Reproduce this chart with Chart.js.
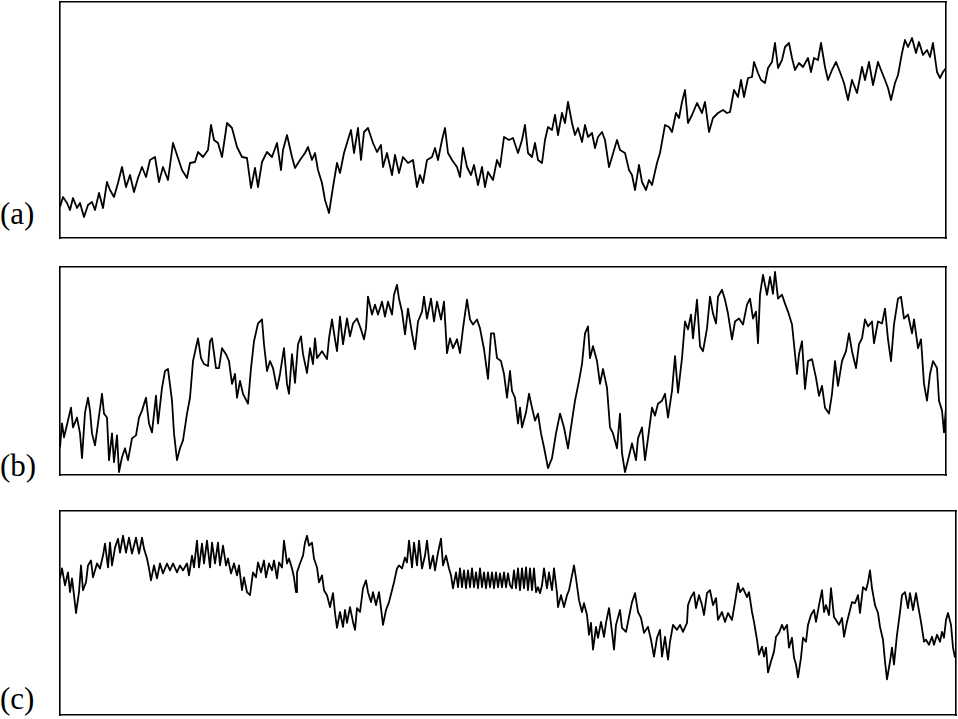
<!DOCTYPE html>
<html><head><meta charset="utf-8">
<script src="https://cdn.jsdelivr.net/npm/chart.js@4"></script>
<style>
html,body{margin:0;padding:0;background:#fff;width:958px;height:719px;overflow:hidden;}
canvas{position:absolute;}
.lbl{position:absolute;left:0;font-family:"Liberation Serif","DejaVu Serif",serif;font-size:31px;line-height:31px;color:#000;white-space:nowrap;}
</style></head><body>
<canvas id="ca" width="890" height="240" style="left:58px;top:0px"></canvas>
<canvas id="cb" width="890" height="212" style="left:58px;top:265px"></canvas>
<canvas id="cc" width="900" height="208" style="left:58px;top:509px"></canvas>
<div class="lbl" style="top:198px">(a)</div>
<div class="lbl" style="top:450px">(b)</div>
<div class="lbl" style="top:683px">(c)</div>
<script>
// Panel labels
const panelLabels = ["(a)", "(b)", "(c)"];

// Series (a): time and value
const timeA = [
 0,3,7,10,13,17,20,24,28,32, 35,39,43,47,50,54,58,62,66,70, 74,78,82,86,90,95,99,103,108,113,
 117,122,127,130,135,138,143,148,151,154, 158,162,167,172,177,182,187,191,195,198, 202,207,212,217,221,
 223,227,232,235,240,245,248,252,255,258, 262,265,269,273,277,280,284,287,291,294,
 298,301,304,308,313,317,321,323,327,332, 335,339,343,348,353,357,360,363,367,372,
 375,378,382,385,388,392,397,400,403,407, 411,414,418,422,425,428,433,437,440,444, 449,
 453,458,462,465,468,472,475,478,482,485, 488,492,495,498,502,505,508,512,515,518,
 522,525,528,532,535,538,542,545,549,552, 557,560,565,569,572,575,579,582,586,589,
 592,597,600,605,609,612,616,619,622,625, 628,632,637,642,645,649,653,658,663,667, 670,674,
 678,681,684,688,692,694,698,701,705,708, 712,715,718,722,725,729,732,735,739,743,
 748,751,754,758,761,765,768,772,776,780, 784,788,792,797,802,805,809,813,818,821,
 825,828,831,835,838,842,845,848,852,856, 859,863,867,870,873,877,880,883,886
];
const valueA = [
 31,41,35,28,40,30,35,21,33,36, 28,45,30,56,48,41,55,71,51,63, 46,60,71,61,78,81,56,71,58,95,
 83,68,60,75,76,86,81,88,113,98, 95,81,115,110,91,81,80,50,70,51, 76,86,81,95,68,
 88,103,81,70,78,85,91,78,85,68, 55,38,25,51,75,65,85,95,108,85,
 110,78,106,110,95,86,93,71,85,63, 83,65,81,75,78,51,63,55,78,81,
 90,78,98,110,85,78,71,61,90,71, 63,73,53,71,51,66,58,78,71,101, 98,
 100,85,98,113,85,81,95,78,75,98, 111,108,123,103,125,115,136,115,103,110,
 96,113,101,105,90,101,106,98,71,81, 98,88,85,68,63,48,73,56,48,58,
 53,75,85,113,111,106,125,120,136,148, 115,123,135,125,136,106,120,125,128,125, 126,148,
 141,158,141,160,161,176,165,158,155,170, 176,195,170,178,191,195,180,168,175,171,
 180,166,180,178,195,171,158,168,176,166, 155,138,158,145,171,158,176,153,176,168,
 158,150,138,155,163,185,198,191,200,185, 196,183,188,181,195,166,160,166,170
];

// Series (b)
const timeB = [
 0,2,4,8,11,13,17,20,22,25, 28,30,32,35,38,42,44,47,49,52, 54,57,59,62,65,68,72,76,79,82,
 86,89,92,96,98,102,105,108,112,114, 117,120,123,127,130,133,138,141,144,148,
 150,152,156,159,162,166,169,172,175,177, 180,183,188,191,194,198,202,204,207,210, 213,217,220,224,
 227,229,232,235,238,241,243,247,250,253, 255,257,262,267,269,272,275,277,280,283,
 287,290,293,297,301,304,306,308,312,315, 318,322,325,328,332,334,337,339,342,345,
 348,352,355,358,362,364,367,371,374,377, 381,384,387,390,393,397,400,403,407,410,
 413,417,420,424,428,431,434,437,441,444, 447,
 450,452,455,458,460,462,466,469,472,475, 478,481,484,488,492,496,500,504,508,511,
 515,519,522,525,528,530,533,537,540,543, 547,550,553,557,560,562,565,568,572,576,
 578,582,585,588,592,595,598,602,605,608, 612,615,618,622,625,628,631,633,637,640,
 643,647,650,653,656,658,662,665,668,672,
 675,679,683,687,690,693,696,698,700,703, 707,710,713,715,718,722,725,728,732,734,
 737,739,742,745,748,752,756,759,762,765, 769,772,775,778,782,786,789,792,796,799,
 802,805,808,812,814,818,822,825,828,831, 834,838,841,844,848,852,854,858,861,864,
 867,870,873,877,879,882,884,886
];
const valueB = [
 28,52,38,55,68,48,58,42,17,63, 78,65,42,30,52,82,62,58,15,42, 13,40,3,18,27,15,37,40,58,65,
 78,52,43,80,52,88,105,107,75,42, 15,27,35,62,78,115,138,118,112,110,
 135,138,108,108,128,122,115,92,102,78, 95,82,72,108,135,153,157,132,105,115, 108,87,102,128,
 92,82,122,93,132,140,122,103,128,112, 138,118,125,117,138,157,137,125,160,132,
 158,140,153,158,147,137,148,180,162,172, 162,175,160,175,162,182,192,178,165,142,
 168,143,127,155,165,180,158,178,155,175, 157,175,123,138,128,137,123,148,177,157,
 152,157,148,127,97,143,143,118,115,102, 78,
 105,85,78,52,68,48,63,82,68,55, 62,42,28,7,17,42,62,48,27,48,
 75,95,112,143,150,118,130,115,92,107, 88,48,42,27,62,22,3,15,32,15,
 37,48,15,37,68,60,72,75,82,58, 85,120,83,118,155,147,162,138,177,130,
 125,148,180,163,153,180,187,177,163,137,
 155,158,152,172,178,158,165,133,182,202, 182,200,183,205,178,182,173,165,152,132,
 102,122,135,87,115,117,98,80,90,68, 62,82,115,90,115,125,143,125,108,132,
 138,157,150,155,133,155,153,168,137,115, 152,178,180,158,162,143,157,128,137,92,
 75,102,115,108,75,65,43,68
];

// Series (c)
const timeC = [
 0,2,5,8,10,12,14,16,19,21, 23,26,28,31,33,37,40,43,45,48, 50,52,55,58,60,63,66,69,72,76,
 79,82,84,87,89,91,94,97,100,103, 107,110,113,117,120,123,127,129,132,134,
 137,139,142,144,147,150,152,155,158,160, 163,166,168,171,174,177,179,182,184,187,
 190,193,196,198,201,204,206,209,212,214, 217,219,222,224,
 227,229,232,234,236,237,240,243,245,247, 249,252,254,257,259,262,264,267,270,273,
 275,277,280,283,285,287,290,293,295,297, 300,303,306,308,311,313,316,319,321,323,
 326,329,332,334,337,339,342,345,347,349, 352,354,357,359,362,365,367,370,373,375,
 378,381,383,386,389,391,393,396,398,400, 402,404,406,408,410,412,414,416,418,420,
 422,424,426,428,430,432,434,436,438,440, 442,444,446,448,450,
 452,454,456,458,460,462,464,466,468,470, 472,474,476,478,480,482,484,487,489,492,
 494,497,498,501,504,507,509,512,514,516, 519,522,524,527,529,531,533,536,538,541,
 544,546,549,552,554,556,560,562,566,569, 572,575,578,581,584,588,591,594,597,600,
 602,605,608,610,613,617,620,623,627,628, 631,634,636,639,642,644,647,650,653,656,
 658,662,665,668,672,
 675,678,680,683,687,689,692,694,697,699, 702,704,706,708,711,714,716,719,722,724,
 727,729,732,734,736,738,741,743,746,748, 751,754,756,759,762,764,766,769,771,774,
 776,779,782,784,787,790,792,795,798,800, 803,806,808,810,812,815,818,820,823,825,
 827,830,832,834,837,840,842,845,848,850, 853,856,858,861,864,866,869,872,874,877,
 880,882,884,886,888,891,893,895
];
const valueC = [
 138,148,131,144,124,138,121,103,124,151, 126,134,151,156,139,153,148,161,173,149,
 174,151,169,178,164,181,164,179,163,179, 163,179,168,158,148,136,151,138,153,143,
 153,146,153,144,151,146,153,141,161,149, 176,149,173,153,176,149,174,153,174,151,
 171,151,158,143,153,141,151,126,139,124, 121,144,139,154,144,156,139,153,146,156,
 138,154,149,176,
 153,158,148,139,124,144,153,161,174,181, 171,174,158,149,134,141,126,121,109,123,
 103,88,104,89,106,93,109,94,86,108, 104,128,136,124,114,124,111,124,108,91,
 106,114,126,134,148,151,148,159,154,176, 149,174,151,176,148,161,176,148,161,146,
 164,178,151,161,148,141,128,144,129,148, 129,146,128,146,129,148,129,144,128,148,
 129,144,128,144,129,144,128,144,129,143, 129,144,129,143,131,
 128,146,128,148,126,148,128,149,126,148, 126,148,124,129,123,131,148,128,144,126,
 148,123,109,121,109,121,126,141,151,138, 116,104,113,101,81,93,66,89,78,94,
 79,93,108,84,66,91,106,88,84,99, 114,123,104,98,83,89,76,59,78,86,
 59,79,56,74,91,86,91,84,93,111, 119,124,108,121,111,101,123,126,111,118,
 96,104,94,103,96,
 114,133,124,128,119,124,104,94,76,61, 69,59,68,43,54,64,79,83,91,86,
 91,68,78,58,51,38,58,78,74,91, 101,106,94,111,126,104,111,101,128,99,
 96,91,98,79,94,106,114,113,121,103, 129,126,134,146,128,111,103,89,76,54,
 36,54,68,51,81,104,121,124,108,123, 106,123,111,94,74,76,71,79,71,81,
 74,84,78,96,103,91,68,58
];

// Axis ranges (time span, value span) per panel
const rangesA = {tMax: 886, vMax: 236};
const rangesB = {tMax: 886, vMax: 210};
const rangesC = {tMax: 896, vMax: 206};

function frame(pos, min, max) {
  return {
    type: 'linear', position: pos, min: min, max: max, display: true,
    grid: {display: false, drawTicks: false},
    ticks: {display: false},
    border: {display: true, color: '#000', width: 1.6}
  };
}

function makeChart(id, times, values, ranges) {
  const pts = times.map((t, i) => ({x: t, y: values[i]}));
  return new Chart(document.getElementById(id), {
    type: 'line',
    data: {datasets: [{data: pts, borderColor: '#000', borderWidth: 1.8, pointRadius: 0,
      tension: 0, fill: false, borderJoinStyle: 'round'}]},
    options: {
      responsive: false, animation: false, parsing: true,
      layout: {padding: 2, autoPadding: false},
      plugins: {legend: {display: false}, tooltip: {enabled: false}, title: {display: false}},
      scales: {
        x: frame('bottom', 0, ranges.tMax),
        x2: frame('top', 0, ranges.tMax),
        y: frame('left', 0, ranges.vMax),
        y2: frame('right', 0, ranges.vMax)
      }
    }
  });
}

makeChart('ca', timeA, valueA, rangesA);
makeChart('cb', timeB, valueB, rangesB);
makeChart('cc', timeC, valueC, rangesC);
</script>
</body></html>
